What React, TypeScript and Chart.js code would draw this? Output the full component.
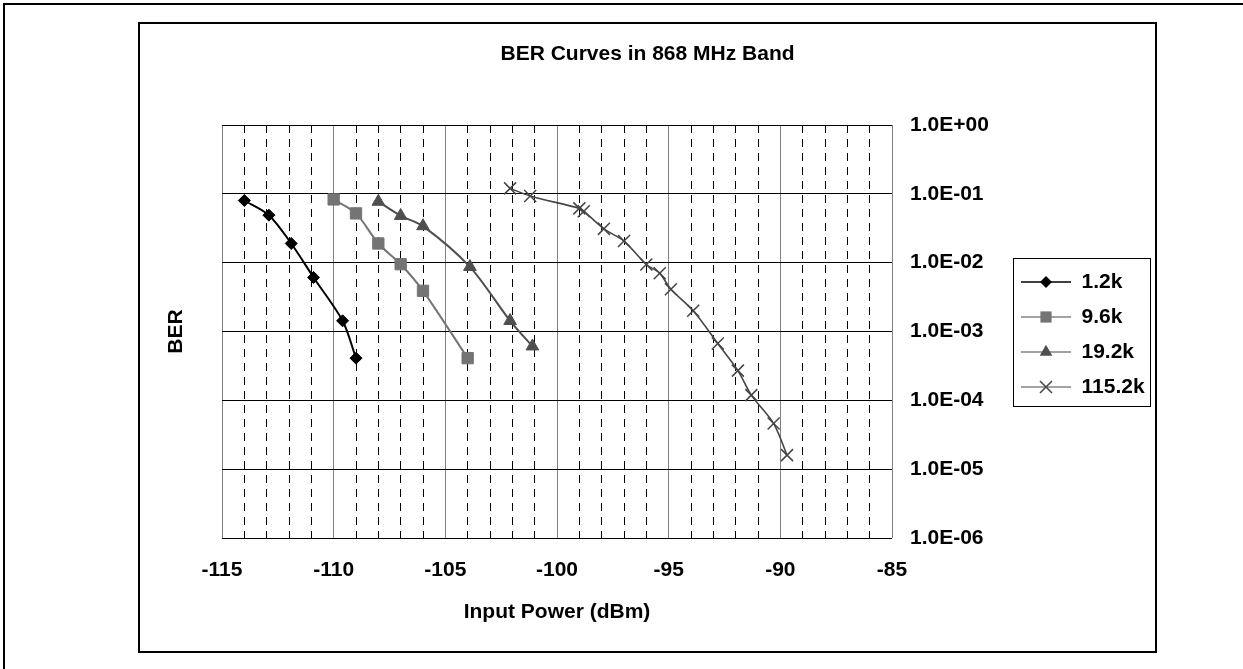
import React, { useEffect, useRef } from 'react';
import { Chart, registerables } from 'chart.js';

Chart.register(...registerables);

const FONT = "'Liberation Sans', Arial, Helvetica, sans-serif";

const chartTitle = 'BER Curves in 868 MHz Band';
const xAxisTitle = 'Input Power (dBm)';
const yAxisTitle = 'BER';

const seriesNames = ['1.2k', '9.6k', '19.2k', '115.2k'];

const power_1_2k = [-114, -112.9, -111.9, -110.9, -109.6, -109];
const ber_1_2k = [0.08, 0.049, 0.019, 0.0061, 0.00143, 0.00041];

const power_9_6k = [-110, -109, -108, -107, -106, -104];
const ber_9_6k = [0.083, 0.052, 0.019, 0.0095, 0.0039, 0.00041];

const power_19_2k = [-108, -107, -106, -103.9, -102.1, -101.1];
const ber_19_2k = [0.077, 0.048, 0.034, 0.0087, 0.00143, 0.00061];

const power_115_2k = [-102.1, -101.2, -99, -98.8, -97.9, -97, -96, -95.4, -94.9, -93.9, -92.8, -91.9, -91.3, -90.3, -89.7];
const ber_115_2k = [0.12, 0.093, 0.0615, 0.056, 0.031, 0.0206, 0.0094, 0.007, 0.0041, 0.002, 0.00067, 0.00027, 0.000119, 0.000046, 0.000016];

const xMin = -115;
const xMax = -85;
const yTickValues = [1, 1e-1, 1e-2, 1e-3, 1e-4, 1e-5, 1e-6];
const yTickLabels = ['1.0E+00', '1.0E-01', '1.0E-02', '1.0E-03', '1.0E-04', '1.0E-05', '1.0E-06'];

const seriesPower = [power_1_2k, power_9_6k, power_19_2k, power_115_2k];
const seriesBer = [ber_1_2k, ber_9_6k, ber_19_2k, ber_115_2k];
const seriesColors = ['#000000', '#747474', '#4f4f4f', '#454545'];
const legendLineColors = ['#000000', '#858585', '#858585', '#858585'];
const seriesStyles = ['rectRot', 'rect', 'triangle', 'crossRot'];
const seriesRadius = [6, 8, 7.3, 8.5];
const seriesLineWidth = [2, 2, 2, 1.6];

function drawMarker(ctx: CanvasRenderingContext2D, style: string, x: number, y: number, color: string) {
  ctx.save();
  ctx.fillStyle = color;
  ctx.strokeStyle = color;
  ctx.lineWidth = 1.5;
  ctx.setLineDash([]);
  ctx.beginPath();
  if (style === 'rectRot') {
    const r = 6;
    ctx.moveTo(x - r, y);
    ctx.lineTo(x, y - r);
    ctx.lineTo(x + r, y);
    ctx.lineTo(x, y + r);
    ctx.closePath();
    ctx.fill();
  } else if (style === 'rect') {
    const h = 5.6;
    ctx.rect(x - h, y - h, 2 * h, 2 * h);
    ctx.fill();
  } else if (style === 'triangle') {
    const r = 7.3;
    ctx.moveTo(x, y - r);
    ctx.lineTo(x + 0.866 * r, y + 0.5 * r);
    ctx.lineTo(x - 0.866 * r, y + 0.5 * r);
    ctx.closePath();
    ctx.fill();
  } else {
    const h = 6;
    ctx.moveTo(x - h, y - h);
    ctx.lineTo(x + h, y + h);
    ctx.moveTo(x + h, y - h);
    ctx.lineTo(x - h, y + h);
    ctx.stroke();
  }
  ctx.restore();
}

const legendDecor = {
  id: 'legendDecor',
  afterDraw(chart: any) {
    const lg = chart.legend;
    if (!lg || !lg.legendHitBoxes || !lg.legendHitBoxes.length) return;
    const hb = lg.legendHitBoxes;
    const ctx: CanvasRenderingContext2D = chart.ctx;
    const first = hb[0];
    const last = hb[hb.length - 1];
    const left = Math.round(first.left - 8) + 0.5;
    const top = Math.round(first.top + 10.5 - 24) + 0.5;
    const bottom = Math.round(last.top + 10.5 + 18.5) + 0.5;
    ctx.save();
    ctx.strokeStyle = '#000';
    ctx.lineWidth = 1;
    ctx.setLineDash([]);
    ctx.strokeRect(left, top, 137, bottom - top);
    ctx.restore();
    hb.forEach((b: any, i: number) => {
      drawMarker(ctx, seriesStyles[i], b.left + 25, b.top + 10.5, seriesColors[i]);
    });
  },
};

export default function App() {
  const ref = useRef<HTMLCanvasElement>(null);

  useEffect(() => {
    const font = (size: number) => ({ family: FONT, size, weight: 'bold' as const });
    const datasets = seriesNames.map((name, i) => ({
      label: name,
      data: seriesPower[i].map((p, j) => ({ x: p, y: seriesBer[i][j] })),
      borderColor: seriesColors[i],
      backgroundColor: seriesColors[i],
      borderWidth: seriesLineWidth[i],
      pointStyle: seriesStyles[i] as any,
      pointRadius: seriesRadius[i],
      pointHoverRadius: seriesRadius[i],
      pointBorderColor: seriesColors[i],
      pointBackgroundColor: seriesColors[i],
      pointBorderWidth: seriesStyles[i] === 'crossRot' ? 1.5 : 1,
      tension: 0.3,
      fill: false,
      xAxisID: 'x',
      yAxisID: 'y',
    }));

    const chart = new Chart(ref.current as HTMLCanvasElement, {
      type: 'line',
      data: { datasets },
      options: {
        responsive: false,
        animation: false,
        devicePixelRatio: 1,
        layout: { padding: { left: 5, right: 5, top: 0, bottom: 0 } },
        plugins: {
          title: {
            display: true,
            text: chartTitle,
            color: '#000',
            font: font(21),
            padding: { top: 41.4, bottom: 58.4 },
          },
          legend: {
            display: true,
            position: 'right',
            align: 'center',
            maxWidth: 145,
            labels: {
              usePointStyle: true,
              pointStyle: 'line',
              pointStyleWidth: 50,
              padding: 14,
              color: '#000',
              font: font(21),
              generateLabels: () =>
                seriesNames.map((name, i) => ({
                  text: name,
                  fillStyle: legendLineColors[i],
                  strokeStyle: legendLineColors[i],
                  lineWidth: 1.5,
                  pointStyle: 'line',
                  hidden: false,
                  datasetIndex: i,
                  fontColor: '#000',
                })) as any,
            },
          },
          tooltip: { enabled: false },
        },
        scales: {
          x: {
            type: 'linear',
            position: 'bottom',
            min: xMin,
            max: xMax,
            ticks: {
              stepSize: 5,
              color: '#000',
              font: font(21),
              padding: 20,
              maxRotation: 0,
              autoSkip: false,
            },
            grid: { color: '#808080', lineWidth: 1, drawTicks: false },
            border: { display: false },
            title: {
              display: true,
              text: xAxisTitle,
              color: '#000',
              font: font(21),
              padding: { top: 0, bottom: 44.4 },
            },
            afterFit: (s: any) => {
              s.height = 131;
            },
          },
          xMinor: {
            type: 'linear',
            position: 'bottom',
            min: xMin,
            max: xMax,
            ticks: { stepSize: 1, display: false, autoSkip: false },
            grid: {
              drawTicks: false,
              lineWidth: 1,
              color: (c: any) => (c.tick && Math.abs(c.tick.value % 5) < 1e-9 ? 'rgba(0,0,0,0)' : '#000'),
            },
            border: { display: false, dash: [8, 6] },
            afterFit: (s: any) => {
              s.height = 0;
            },
          },
          y: {
            type: 'logarithmic',
            position: 'right',
            min: 1e-6,
            max: 1,
            afterBuildTicks: (s: any) => {
              s.ticks = yTickValues.map((v) => ({ value: v }));
            },
            ticks: {
              color: '#000',
              font: font(21),
              padding: 18,
              autoSkip: false,
              callback: (v: any) => {
                const idx = yTickValues.findIndex((t) => Math.abs(Math.log10(t) - Math.log10(Number(v))) < 1e-6);
                return idx >= 0 ? yTickLabels[idx] : '';
              },
            },
            grid: { color: '#000', lineWidth: 1, drawTicks: false },
            border: { display: false },
            afterFit: (s: any) => {
              s.width = 115;
            },
          },
          yTitle: {
            type: 'linear',
            position: 'left',
            min: 0,
            max: 1,
            ticks: { display: false },
            grid: { display: false, drawTicks: false },
            border: { display: false },
            title: {
              display: true,
              text: yAxisTitle,
              color: '#000',
              font: font(21),
              padding: { top: 20.9, bottom: 0 },
            },
            afterFit: (s: any) => {
              s.width = 79;
            },
          },
        },
      } as any,
      plugins: [legendDecor],
    });
    return () => chart.destroy();
  }, []);

  return (
    <div style={{ position: 'absolute', left: 0, top: 0, width: 1243, height: 669, overflow: 'hidden', background: '#fff' }}>
      <div
        style={{
          position: 'absolute',
          left: 3,
          top: 3,
          width: 1240,
          height: 666,
          borderLeft: '2px solid #000',
          borderTop: '2px solid #000',
          boxSizing: 'border-box',
        }}
      />
      <div
        style={{
          position: 'absolute',
          left: 138,
          top: 22,
          width: 1019,
          height: 631,
          border: '2px solid #000',
          boxSizing: 'border-box',
        }}
      />
      <canvas
        ref={ref}
        width={1019}
        height={669}
        style={{ position: 'absolute', left: 138, top: 0, width: 1019, height: 669 }}
      />
    </div>
  );
}
